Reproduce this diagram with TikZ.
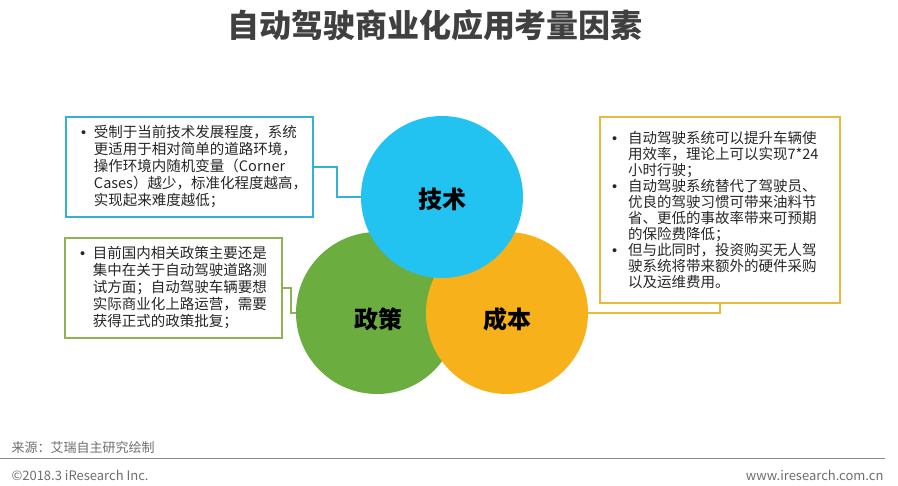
\documentclass[tikz,border=0pt]{standalone}
\usepackage{fontspec}
\setmainfont{Noto Sans CJK SC}
\newfontfamily\bulfont{Liberation Sans}
\usepackage{xcolor}
\usepackage{tikz}
\usetikzlibrary{positioning}

\definecolor{jsblue}{HTML}{22C3F0}
\definecolor{zcgreen}{HTML}{6BAE3F}
\definecolor{cborange}{HTML}{F6B11B}
\definecolor{jsline}{HTML}{33B3D3}
\definecolor{zcline}{HTML}{8FB253}
\definecolor{cbline}{HTML}{E7BB3C}
\definecolor{txtgray}{HTML}{262626}
\definecolor{footgray}{HTML}{6E6E6E}

\newcommand{\itm}[1][13pt]{\makebox[#1][l]{\bulfont•}}
\newcommand{\ind}[1][13pt]{\hspace*{#1}}

\begin{document}
\begin{tikzpicture}[x=1pt, y=-1pt,
    every node/.append style={text=txtgray},
    ball/.style={circle, minimum size=162pt, inner sep=0pt},
    ballname/.style={font=\fontsize{24}{28}\selectfont\bfseries, text=black},
    note/.style={draw, line width=2pt, align=left, inner ysep=0pt, font=\fontsize{14.5}{17}\selectfont},
    link/.style={line width=2pt},
    foot/.style={font=\fontsize{13}{15}\selectfont, text=footgray},
]
\useasboundingbox (0,0) rectangle (898,486);

\node[font=\fontsize{32}{36}\selectfont\bfseries, text=black!75] (title) at (435,25) {自动驾驶商业化应用考量因素};

% three circles
\node[ball, fill=zcgreen] (zc) at (377,313) {};
\node[ball, fill=cborange] (cb) at (507,313) {};
\node[ball, fill=jsblue] (js) at (442,197) {};
\node[ballname] (zcname) at (378,319) {政策};
\node[ballname] (cbname) at (507,319) {成本};
\node[ballname] (jsname) at (442,199) {技术};

% notes
\node[note, draw=jsline, minimum width=247pt, minimum height=100pt, text width=217pt, inner xsep=15pt] (jsbox) at (189.5,167) {%
\itm 受制于当前技术发展程度，系统\\
\ind 更适用于相对简单的道路环境，\\
\ind 操作环境内随机变量（Corner\\
\ind Cases）越少，标准化程度越高，\\
\ind 实现起来难度越低；};

\node[note, draw=zcline, minimum width=217pt, minimum height=100pt, text width=187pt, inner xsep=15pt] (zcbox) at (173.5,288) {%
\itm 目前国内相关政策主要还是\\
\ind 集中在关于自动驾驶道路测\\
\ind 试方面；自动驾驶车辆要想\\
\ind 实际商业化上路运营，需要\\
\ind 获得正式的政策批复；};

\node[note, draw=cbline, minimum width=240pt, minimum height=186pt, text width=216pt, inner xsep=12pt, font=\fontsize{14.5}{16}\selectfont] (cbbox) at (720,210) {%
\itm[16pt]自动驾驶系统可以提升车辆使\\
\ind[16pt]用效率，理论上可以实现7*24\\
\ind[16pt]小时行驶；\\
\itm[16pt]自动驾驶系统替代了驾驶员、\\
\ind[16pt]优良的驾驶习惯可带来油料节\\
\ind[16pt]省、更低的事故率带来可预期\\
\ind[16pt]的保险费降低；\\
\itm[16pt]但与此同时，投资购买无人驾\\
\ind[16pt]驶系统将带来额外的硬件采购\\
\ind[16pt]以及运维费用。};

\draw[link, jsline] (jsbox.east) -- ++(23,0) |- (js.west);
\draw[link, zcline] (zcbox.east) -- ++(8,0) |- (zc.west);
\draw[link, cbline] (cb.east) -| (cbbox.south);

% footer
\node[foot, anchor=west] (src) at (8,448) {来源：艾瑞自主研究绘制};
\draw[footgray!80, line width=1pt] (0,459) -- (885,459);
\node[foot, anchor=west] (copy) at (8,475) {©2018.3 iResearch Inc.};
\node[foot, anchor=east] (web) at (887,475) {www.iresearch.com.cn};

\end{tikzpicture}
\end{document}
